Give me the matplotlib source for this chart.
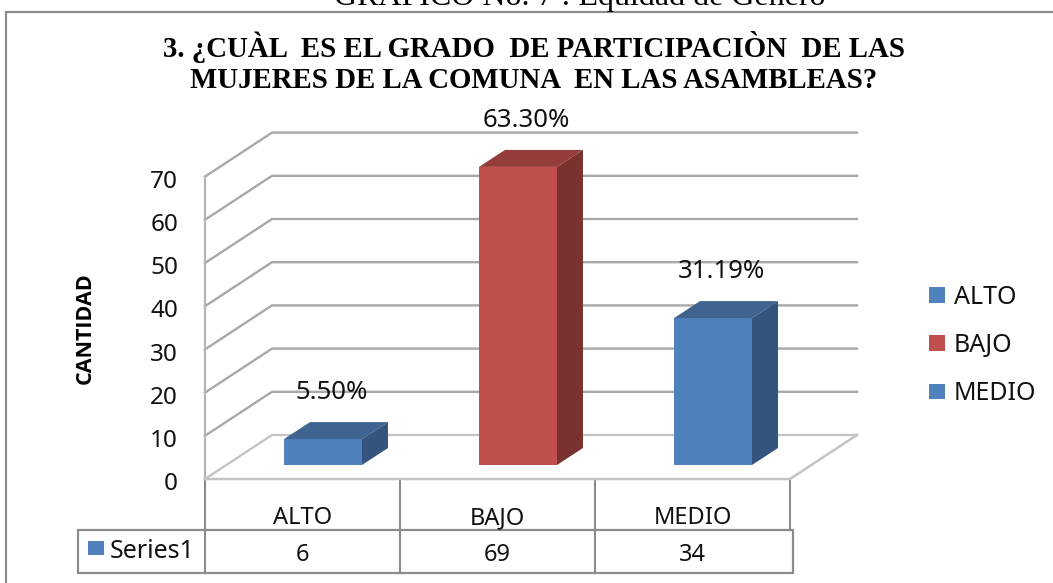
import matplotlib
matplotlib.use("Agg")
import matplotlib.pyplot as plt
from matplotlib.patches import Patch, Rectangle

categorias = ["ALTO", "BAJO", "MEDIO"]
valores = [6, 69, 34]
etiquetas = ["5.50%", "63.30%", "31.19%"]
ticks = [0, 10, 20, 30, 40, 50, 60, 70]
frente = ["#4F81BD", "#C0504D", "#4F81BD"]
tapa = ["#3E648F", "#943D3A", "#3E648F"]
lado = ["#34547D", "#7A3230", "#34547D"]

W, H = 1053, 583
X0, UX = 205, 195.0   # pixel of x=0, pixels per category
Y0, UY = 479, 4.32    # pixel of y=0, pixels per unit

sans = "Noto Sans"
serif = "Liberation Serif"
gris = "#a8a8a8"

fig = plt.figure(figsize=(W / 100, H / 100), dpi=100)

# axes in pixel coordinates for the frame and the table
pag = fig.add_axes([0, 0, 1, 1])
pag.set_xlim(0, W)
pag.set_ylim(H, 0)
pag.axis("off")

# axes in data coordinates, aligned with the picture
ax = fig.add_axes([0, 0, 1, 1])
ax.set_xlim(-X0 / UX, (W - X0) / UX)
ax.set_ylim((Y0 - H) / UY, Y0 / UY)
ax.axis("off")
ax.patch.set_alpha(0)

pag.add_patch(Rectangle((5.5, 11.5), W, H, fc="white", ec="#8c8c8c", lw=1.6))

fig.text(580 / W, 1 - 5 / H, "GRÁFICO No. 7 : Equidad de Género", family=serif,
         fontsize=23, ha="center", va="baseline", color="black")

pag.text(534, 47, "3. ¿CUÀL  ES EL GRADO  DE PARTICIPACIÒN  DE LAS", family=serif,
         weight="bold", fontsize=20.8, ha="center", va="center")
pag.text(534, 81, "MUJERES DE LA COMUNA  EN LAS ASAMBLEAS?", family=serif,
         weight="bold", fontsize=20.8, ha="center", va="center")

# depth of the box and of the bars
dx = 67 / UX
dy = 44 / UY
bx = 0.105
by = 14 / UY
ancho = 78 / UX
px = 26 / UX
py = 17 / UY

# walls and floor
for t in ticks:
    c = "#c4c4c4" if t == 0 else gris
    ax.plot([0, dx, 3 + dx], [t, t + dy, t + dy], color=c, lw=1.7, solid_joinstyle="miter", zorder=1)
ax.plot([0, 0], [0, ticks[-1]], color="#b5b5b5", lw=1.6, zorder=1)
ax.plot([0, 3, 3 + dx], [0, 0, dy], color="#c4c4c4", lw=1.8, zorder=1)

for i, v in enumerate(valores):
    x1 = i + 0.5 + bx - ancho / 2
    x2 = x1 + ancho
    ax.fill([x1, x2, x2, x1], [by, by, by + v, by + v], color=frente[i], lw=0, zorder=3)
    ax.fill([x1, x2, x2 + px, x1 + px], [by + v, by + v, by + v + py, by + v + py],
            color=tapa[i], lw=0, zorder=3)
    ax.fill([x2, x2 + px, x2 + px, x2], [by, by + py, by + v + py, by + v],
            color=lado[i], lw=0, zorder=3)
    ax.text(i + 0.5 + bx + 0.045, by + v + py + 6.9, etiquetas[i], family=sans, fontsize=18.5,
            ha="center", va="center", color="#111111", zorder=4)

for t in ticks:
    ax.text(-27 / UX, t - 1.2, str(t), family=sans, fontsize=17.5, ha="right", va="center",
            color="#111111")

pag.text(85, 328, "CANTIDAD", family="Open Sans", weight="bold", fontsize=15.5, rotation=90,
         ha="center", va="center", color="black")

# data table below the chart
cols = [205, 400, 595, 790]
for x in cols:
    pag.plot([x, x], [481, 530], color="#8c8c8c", lw=1.5)
pag.add_patch(Rectangle((78, 530), 715, 43, fc="white", ec="#8c8c8c", lw=1.6))
for x in cols[:3]:
    pag.plot([x, x], [530, 573], color="#8c8c8c", lw=1.5)
pag.add_patch(Rectangle((88, 541), 16, 14, fc=frente[0], ec="none"))
pag.text(110, 558, "Series1", family=sans, fontsize=18, ha="left", va="baseline", color="#111111")
for i in range(3):
    pag.text((cols[i] + cols[i + 1]) / 2, 524, categorias[i], family=sans, fontsize=17,
             ha="center", va="baseline", color="#111111")
    pag.text((cols[i] + cols[i + 1]) / 2, 561, str(valores[i]), family=sans, fontsize=17,
             ha="center", va="baseline", color="#111111")

# legend
hs = [Patch(fc=frente[i], ec="none") for i in range(3)]
leg = ax.legend(hs, categorias, loc="upper left", bbox_to_anchor=(925 / W, 1 - 281 / H),
                bbox_transform=fig.transFigure, frameon=False, handlelength=0.65, handleheight=0.6,
                handletextpad=0.35, labelspacing=0.93, borderpad=0.15, borderaxespad=0,
                prop={"family": sans, "size": 18})
for txt in leg.get_texts():
    txt.set_color("#111111")

fig.savefig("out.png", dpi=100)
